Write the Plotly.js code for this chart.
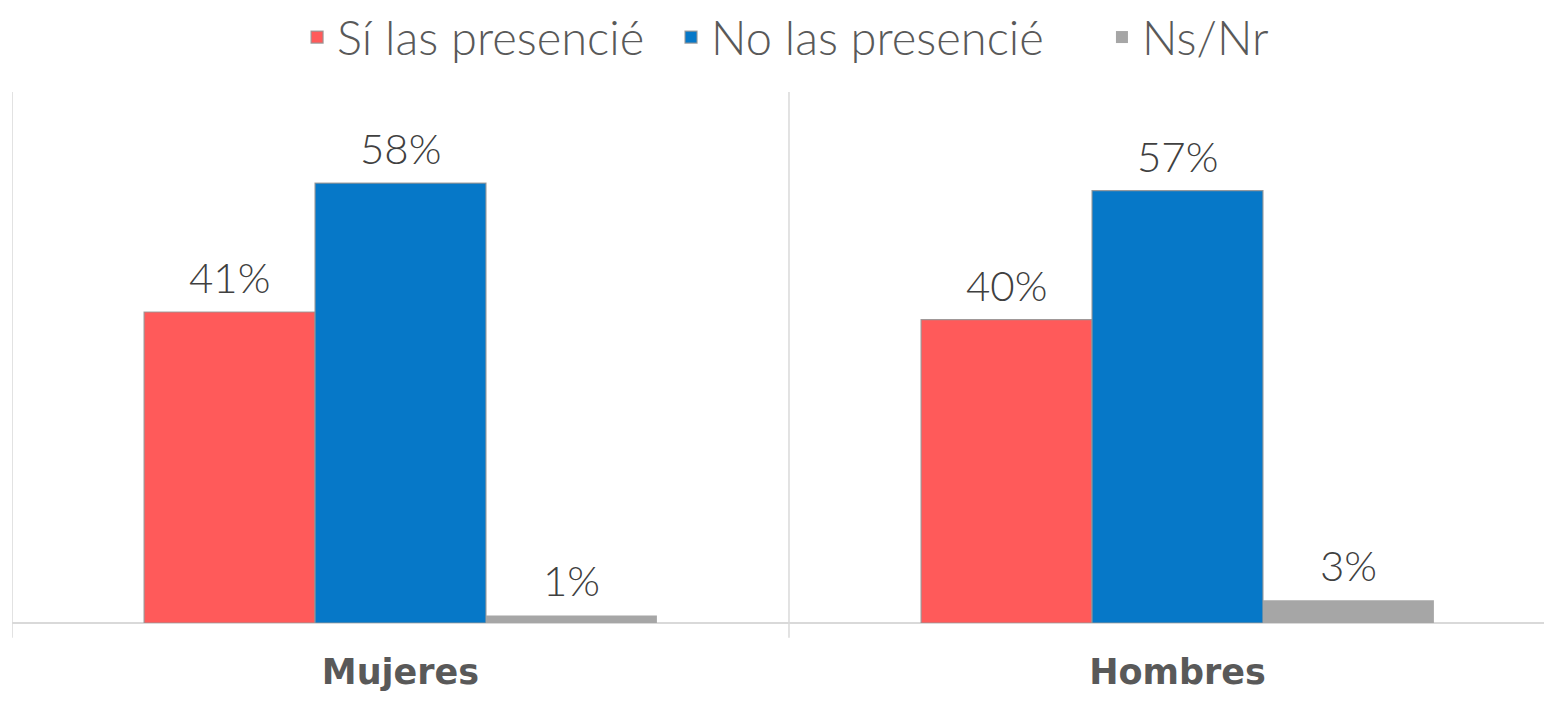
<!DOCTYPE html>
<html>
<head>
<meta charset="utf-8">
<script src="https://cdn.plot.ly/plotly-3.0.1.min.js"></script>
<style>html,body{margin:0;padding:0;background:#fff;}#chart{width:1544px;height:705px;}</style>
</head>
<body>
<div id="chart"></div>
<script>
const categories = ['Mujeres', 'Hombres'];
const seriesNames = ['Sí las presencié', 'No las presencié', 'Ns/Nr'];
const siValues = [41, 40];
const noValues = [58, 57];
const nsValues = [1, 3];
const colors = ['#FF5A5A', '#0678C8', '#A6A6A6'];

const allValues = [siValues, noValues, nsValues];
const bargap = 0.34;
const barW = (1 - bargap) / allValues.length;
const legendIds = ['legend', 'legend2', 'legend3'];
const legendX = [0.1924, 0.4346, 0.7137];

const traces = allValues.map((vals, i) => ({
  type: 'bar',
  name: seriesNames[i],
  x: categories,
  y: vals,
  legend: legendIds[i],
  marker: {color: colors[i], line: {color: i === 2 ? colors[i] : 'rgba(150,150,150,0.9)', width: i === 2 ? 0 : 1.2}},
  hoverinfo: 'skip'
}));

const annotations = [];
allValues.forEach((vals, i) => {
  vals.forEach((v, j) => {
    annotations.push({
      x: j + (i - (allValues.length - 1) / 2) * barW,
      y: v,
      xref: 'x', yref: 'y',
      text: v + '%',
      showarrow: false,
      yanchor: 'bottom',
      yshift: 8,
      font: {family: 'Lato, sans-serif', size: 42, color: '#404040', weight: 300}
    });
  });
});

const shapes = [-0.5, 0.5].map(xv => ({
  type: 'line', xref: 'x', yref: 'paper',
  x0: xv, x1: xv, y0: -0.028, y1: 1,
  line: {color: '#D9D9D9', width: 1.5}
}));

const layout = {
  width: 1544, height: 705,
  margin: {l: 12, r: 0, t: 92, b: 82},
  paper_bgcolor: '#fff', plot_bgcolor: '#fff',
  barmode: 'group', bargap: bargap, bargroupgap: 0,
  showlegend: true,
  xaxis: {
    type: 'category', range: [-0.5, 1.4717],
    showgrid: false, zeroline: false,
    showline: false, ticks: '',
    tickfont: {family: 'DejaVu Sans, sans-serif', size: 35, color: '#595959', weight: 'bold'},
    ticklabelstandoff: 25
  },
  yaxis: {
    range: [0, 70], showgrid: false, zeroline: true, zerolinecolor: '#D9D9D9', zerolinewidth: 2,
    showticklabels: false, showline: false, ticks: ''
  },
  shapes: shapes,
  annotations: annotations
};

legendIds.forEach((id, i) => {
  layout[id] = {
    orientation: 'h', x: legendX[i], xref: 'container', xanchor: 'left',
    y: 1, yref: 'container', yanchor: 'top',
    font: {family: 'Lato, sans-serif', size: 47, color: '#595959', weight: 300},
    itemwidth: 30, bgcolor: 'rgba(0,0,0,0)'
  };
});

Plotly.newPlot('chart', traces, layout, {displayModeBar: false, staticPlot: true});
</script>
</body>
</html>
